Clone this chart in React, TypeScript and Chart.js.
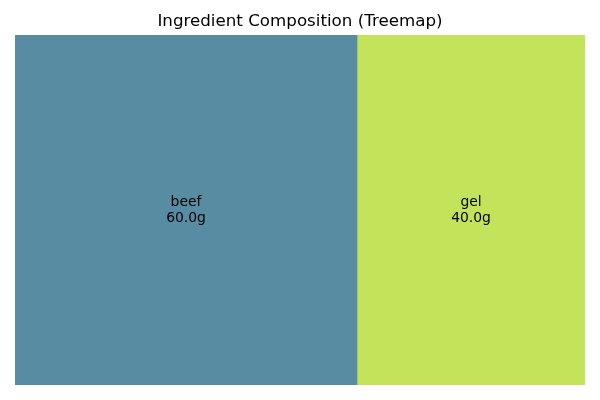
import React, { useEffect, useRef } from "react";
import { Chart, registerables } from "chart.js";

Chart.register(...registerables);

const categories = ["beef", "gel"];
const values = [60.0, 40.0];
const colors = ["#588CA3", "#C2E35A"];
const titleText = "Ingredient Composition (Treemap)";

const labelPlugin = {
  id: "treemapLabels",
  afterDatasetsDraw(chart: any) {
    const ctx = chart.ctx;
    ctx.save();
    ctx.font = "13.9px 'DejaVu Sans'";
    ctx.fillStyle = "#000";
    ctx.textAlign = "center";
    ctx.textBaseline = "middle";
    chart.data.datasets.forEach((ds: any, i: number) => {
      const meta = chart.getDatasetMeta(i);
      const el: any = meta.data[0];
      if (!el) return;
      const cx = (el.x + el.base) / 2;
      const cy = el.y;
      ctx.fillText(categories[i], cx, cy - 8);
      ctx.fillText(values[i].toFixed(1) + "g", cx, cy + 8);
    });
    ctx.restore();
  },
};

export default function App() {
  const ref = useRef<HTMLCanvasElement>(null);
  useEffect(() => {
    if (!ref.current) return;
    const chart = new Chart(ref.current, {
      type: "bar",
      data: {
        labels: ["total"],
        datasets: categories.map((c, i) => ({
          label: c,
          data: [values[i]],
          backgroundColor: colors[i],
          borderWidth: 0,
          barPercentage: 1,
          categoryPercentage: 1,
        })),
      },
      options: {
        indexAxis: "y",
        animation: false,
        responsive: false,
        layout: { padding: { left: 15, right: 15, top: 0, bottom: 15 } },
        scales: {
          x: { stacked: true, min: 0, max: 100, display: false },
          y: { stacked: true, display: false },
        },
        plugins: {
          legend: { display: false },
          tooltip: { enabled: false },
          title: {
            display: true,
            text: titleText,
            color: "#000",
            font: { family: "'DejaVu Sans'", size: 16.7, weight: "normal", lineHeight: 1.2 },
            padding: { top: 11.5, bottom: 3.5 },
          },
        },
      },
      plugins: [labelPlugin],
    } as any);
    return () => chart.destroy();
  }, []);
  return (
    <div style={{ position: "fixed", left: 0, top: 0, width: 600, height: 400, background: "#fff" }}>
      <canvas ref={ref} width={600} height={400} />
    </div>
  );
}
